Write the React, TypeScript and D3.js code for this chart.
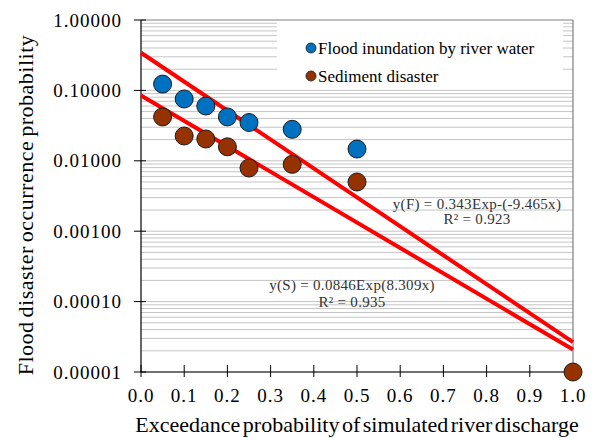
import React from 'react';
import * as d3 from 'd3';

// exceedance probability (x) and occurrence probability (y)
const floodX = [0.05, 0.1, 0.15, 0.2, 0.25, 0.35, 0.5];
const floodY = [0.123, 0.0755, 0.06, 0.042, 0.035, 0.028, 0.0147];
const sedimentX = [0.05, 0.1, 0.15, 0.2, 0.25, 0.35, 0.5, 1.0];
const sedimentY = [0.042, 0.0225, 0.0204, 0.0158, 0.0079, 0.0089, 0.005, 0.00001];

// exponential fits y = a * exp(b x)
const fitF = { a: 0.343, b: -9.465 };
const fitS = { a: 0.0846, b: -8.309 };

const xTicks = [0, 0.1, 0.2, 0.3, 0.4, 0.5, 0.6, 0.7, 0.8, 0.9, 1.0];
const yTicks = [1, 0.1, 0.01, 0.001, 0.0001, 0.00001];
const yTickLabels = ['1.00000', '0.10000', '0.01000', '0.00100', '0.00010', '0.00001'];

const serif = '"Liberation Serif", "Times New Roman", serif';

export default function App() {
  const left = 141, right = 573, top = 20, bottom = 372;
  const x = d3.scaleLinear().domain([0, 1]).range([left, right]);
  const y = d3.scaleLog().domain([0.00001, 1]).range([bottom, top]);

  // minor log gridlines
  const grid: number[] = [];
  for (let e = -5; e < 0; e++) {
    for (let m = 1; m <= 9; m++) grid.push(m * Math.pow(10, e));
  }

  const fitLine = (f: { a: number; b: number }) =>
    d3.line<number>()
      .x(d => x(d))
      .y(d => y(f.a * Math.exp(f.b * d)))([0, 1]);

  return (
    <svg width={597} height={438} style={{ position: 'absolute', left: 0, top: 0, background: '#fff' }}>
      {grid.map((g, i) => (
        <line key={i} x1={left} x2={right} y1={y(g)} y2={y(g)} stroke="#c4c4c4" strokeWidth={1} />
      ))}
      {/* legend background */}
      <rect x={277} y={21} width={286} height={67} fill="#fff" />
      {/* frame */}
      <line x1={left} x2={right} y1={top} y2={top} stroke="#7f7f7f" strokeWidth={1.2} />
      <line x1={right} x2={right} y1={top} y2={bottom} stroke="#7f7f7f" strokeWidth={1.2} />
      <line x1={left} x2={left} y1={top} y2={bottom} stroke="#000" strokeWidth={1.2} />
      <line x1={left} x2={right} y1={bottom} y2={bottom} stroke="#000" strokeWidth={1.2} />

      {yTicks.map((t, i) => (
        <g key={i}>
          <line x1={left - 7} x2={left + 5} y1={y(t)} y2={y(t)} stroke="#000" />
          <text x={left - 19} y={y(t)} dy="0.35em" textAnchor="end" fontFamily={serif}
            fontSize={19} letterSpacing={1}>{yTickLabels[i]}</text>
        </g>
      ))}
      {xTicks.map((t, i) => (
        <g key={i}>
          <line x1={x(t)} x2={x(t)} y1={bottom - 7} y2={bottom + 5} stroke="#000" />
          <text x={x(t)} y={bottom + 30} textAnchor="middle" fontFamily={serif}
            fontSize={19} letterSpacing={1}>{t.toFixed(1)}</text>
        </g>
      ))}

      <path d={fitLine(fitF) || ''} fill="none" stroke="#ff0000" strokeWidth={4} />
      <path d={fitLine(fitS) || ''} fill="none" stroke="#ff0000" strokeWidth={4} />

      {floodX.map((v, i) => (
        <circle key={'f' + i} cx={x(v)} cy={y(floodY[i])} r={9} fill="#0070c0" stroke="#1a1a1a" strokeWidth={1} />
      ))}
      {sedimentX.map((v, i) => (
        <circle key={'s' + i} cx={x(v)} cy={y(sedimentY[i])} r={9} fill="#953200" stroke="#1a1a1a" strokeWidth={1} />
      ))}

      {/* legend */}
      <circle cx={311} cy={48} r={5} fill="#0070c0" stroke="#1a1a1a" strokeWidth={0.8} />
      <text x={318} y={54} fontFamily={serif} fontSize={17}>Flood inundation by river water</text>
      <circle cx={311} cy={76} r={5} fill="#953200" stroke="#1a1a1a" strokeWidth={0.8} />
      <text x={318} y={82} fontFamily={serif} fontSize={17}>Sediment disaster</text>

      {/* fit annotations */}
      <g fontFamily={serif} fontSize={15} fill="#333" textAnchor="middle" letterSpacing={0.3}>
        <text x={477} y={209}>y(F) = 0.343Exp-(-9.465x)</text>
        <text x={477} y={224}>R² = 0.923</text>
        <text x={352} y={290}>y(S) = 0.0846Exp(8.309x)</text>
        <text x={352} y={307}>R² = 0.935</text>
      </g>

      <text x={357} y={432} textAnchor="middle" fontFamily={serif} fontSize={22} wordSpacing={-3}>
        Exceedance probability of simulated river discharge
      </text>
      <text transform="translate(33,205) rotate(-90)" textAnchor="middle" fontFamily={serif}
        fontSize={22} wordSpacing={-2} letterSpacing={0.5}>
        Flood disaster occurrence probability
      </text>
    </svg>
  );
}
